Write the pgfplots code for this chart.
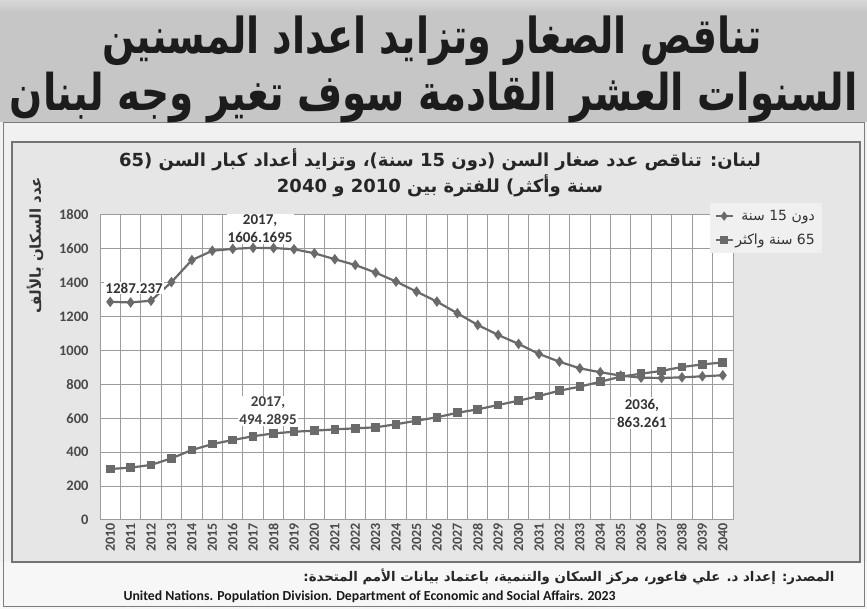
\documentclass[border=0pt]{standalone}
\usepackage{pgfplots}
\pgfplotsset{compat=1.18}
\usepackage{fontspec}
\setmainfont{Carlito}
\newfontfamily\arabicfont[Script=Arabic]{DejaVu Sans}
\TeXXeTstate=1

\definecolor{linegray}{HTML}{6A6A6A}
\definecolor{gridgray}{HTML}{9C9C9C}
\definecolor{ticktext}{HTML}{4A4A4A}
\definecolor{banner}{HTML}{C6C6C6}
\definecolor{chartbg}{HTML}{E6E6E6}
\definecolor{pagebg}{HTML}{F1F1F1}
\definecolor{legendbg}{HTML}{F0F0F0}
\definecolor{titletext}{HTML}{1C1C1C}

\newcommand{\fs}[1]{\fontsize{#1bp}{1.2\dimexpr#1bp\relax}\selectfont}

\begin{document}
\begin{tikzpicture}
\useasboundingbox (0bp,0bp) rectangle (867bp,609bp);
\begin{scope}[x=1bp, y=1bp]
% page and banner
\fill[pagebg] (0,0) rectangle (867,609);
\fill[white!97!black] (0,0) rectangle (867,47);
\shade[top color=banner!70!white, bottom color=banner] (0,609) rectangle (867,596);
\fill[banner] (0,596) rectangle (867,487);
\draw[gridgray!80!black, line width=0.8bp] (3,487) rectangle (864,3);
% chart box
\fill[chartbg] (12,467) rectangle (860,47);
\draw[black!55, line width=1.5bp] (12,467) rectangle (860,47);

% titles
\node[text=titletext] at (432,568) {\resizebox{659bp}{!}{\scalebox{1}[1.3]{\arabicfont\bfseries\beginR تناقص الصغار وتزايد اعداد المسنين\endR}}};
\node[text=titletext] at (434,512) {\resizebox{848bp}{!}{\scalebox{1}[1.3]{\arabicfont\bfseries\beginR السنوات العشر القادمة سوف تغير وجه لبنان\endR}}};

\node[text=black!85] at (440,449) {\arabicfont\bfseries\fs{18}\beginR لبنان: تناقص عدد صغار السن (دون 15 سنة)، وتزايد أعداد كبار السن (65\endR};
\node[text=black!85] at (440,423) {\arabicfont\bfseries\fs{18}\beginR سنة وأكثر)  للفترة بين 2010 و 2040\endR};

\node[rotate=90, text=black!80] at (35,364) {\arabicfont\bfseries\fs{15}\beginR عدد السكان بالألف\endR};

% source
\node[anchor=east, text=black!85] at (838,32) {\resizebox{531bp}{!}{\arabicfont\bfseries\beginR المصدر: إعداد د. علي فاعور، مركز السكان والتنمية، باعتماد بيانات الأمم المتحدة:\endR}};
\node[anchor=west, text=black!90] at (120,12) {\resizebox{492bp}{!}{\bfseries United Nations. Population Division. Department of Economic and Social Affairs. 2023}};
\end{scope}

\begin{axis}[
    at={(100bp,89bp)}, anchor=south west,
    width=633bp, height=305bp, scale only axis,
    xmin=2009.5, xmax=2040.5, ymin=0, ymax=1800,
    xtick={2010,...,2040},
    minor xtick={2009.5,2010.5,...,2040.5},
    ytick={0,200,...,1800},
    xminorgrids, ymajorgrids,
    grid style={draw=gridgray, line width=1bp},
    minor grid style={draw=gridgray, line width=1bp},
    major tick length=0pt, minor tick length=0pt,
    axis line style={draw=gridgray, line width=1bp},
    axis background/.style={fill=white},
    /pgf/number format/assume math mode=true,
    /pgf/number format/1000 sep={},
    scaled ticks=false,
    x tick label style={rotate=90, anchor=east, font=\fs{14}\bfseries, text=ticktext},
    y tick label style={font=\fs{14.5}\bfseries, text=ticktext, xshift=-8bp},
    legend style={at={(1.1406,1.039)}, anchor=north east, draw=none, fill=legendbg,
        font=\arabicfont\fs{14}, text=black!80, row sep=8bp, inner sep=5bp,
        cells={anchor=east}},
    legend image post style={line width=1.5bp},
  ]
  \addplot[color=linegray, line width=2.2bp, mark=diamond*, mark size=3.5bp,
    mark options={solid, fill=linegray}] coordinates {
    (2010,1287.237) (2011,1284) (2012,1294) (2013,1404) (2014,1534)
    (2015,1589) (2016,1600) (2017,1606.1695) (2018,1605) (2019,1598)
    (2020,1574) (2021,1539) (2022,1505) (2023,1460) (2024,1407)
    (2025,1348) (2026,1289) (2027,1220) (2028,1151) (2029,1092)
    (2030,1039) (2031,980) (2032,934) (2033,895) (2034,872)
    (2035,852) (2036,840) (2037,838) (2038,842) (2039,848) (2040,854)
  };
  \addlegendentry{\beginR دون 15 سنة\endR}
  \addplot[color=linegray, line width=2.2bp, mark=square*, mark size=3.2bp,
    mark options={solid, fill=linegray}] coordinates {
    (2010,301) (2011,309) (2012,325) (2013,364) (2014,413)
    (2015,448) (2016,472) (2017,494.2895) (2018,511) (2019,521)
    (2020,527) (2021,535) (2022,541) (2023,547) (2024,565)
    (2025,586) (2026,606) (2027,633) (2028,653) (2029,679)
    (2030,704) (2031,732) (2032,763) (2033,787) (2034,816)
    (2035,846) (2036,863.261) (2037,880) (2038,903) (2039,918) (2040,930)
  };
  \addlegendentry{\beginR 65 سنة واكثر\endR}

  \node[fill=white, inner sep=1bp, font=\fs{15}\bfseries, text=black!80]
    at (axis cs:2011.17,1369) {1287.237};
  \node[fill=white, inner sep=1bp, align=center, font=\fs{15}\bfseries, text=black!80]
    at (axis cs:2017.34,1717) {2017,\\1606.1695};
  \node[fill=white, inner sep=1bp, align=center, font=\fs{15}\bfseries, text=black!75]
    at (axis cs:2017.73,643) {2017,\\494.2895};
  \node[fill=white, inner sep=2bp, align=center, font=\fs{15}\bfseries, text=black!80]
    at (axis cs:2036.04,631) {2036,\\863.261};
\end{axis}
\end{tikzpicture}
\end{document}
